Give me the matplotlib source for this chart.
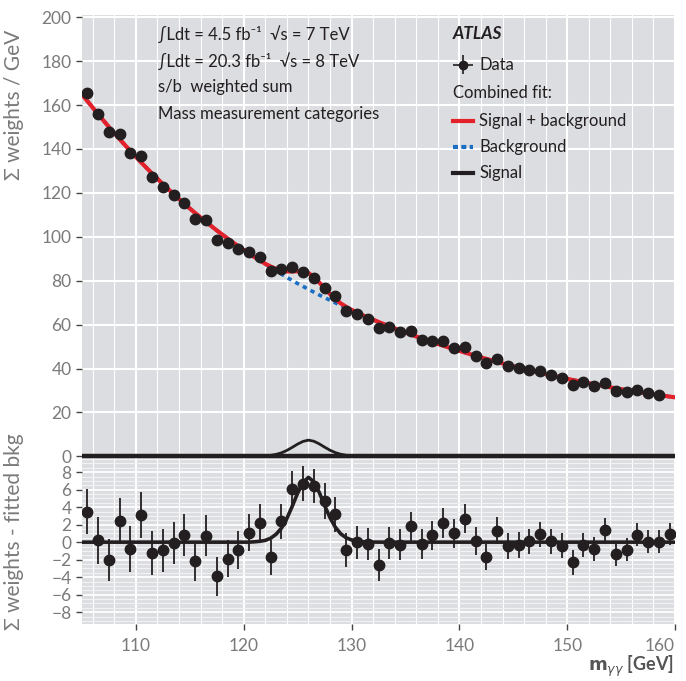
import numpy as np
import matplotlib
matplotlib.use("Agg")
import matplotlib.pyplot as plt

plt.rcParams['font.family'] = ['Lato', 'DejaVu Sans']

# weighted events per 1 GeV bin (upper panel), bin centres 105.5 ... 158.5
data_mass = np.arange(105.5, 159.0, 1.0)
data_vals = [165.3, 155.9, 147.6, 146.7, 138.0, 136.8, 127.3, 122.7, 119.2, 115.5,
             108.2, 107.5, 98.6, 97.0, 94.5, 93.0, 91.0, 84.2, 85.5, 86.1,
             84.0, 81.1, 76.6, 72.8, 66.3, 65.0, 62.7, 58.4, 58.8, 56.7,
             57.1, 53.2, 52.6, 52.6, 49.4, 49.9, 45.8, 42.5, 44.5, 41.2,
             40.3, 39.4, 38.8, 37.0, 35.5, 32.6, 34.0, 32.1, 33.5, 29.7,
             29.5, 30.3, 28.8, 27.9]

# data minus fitted background (lower panel), bin centres 105.5 ... 159.5
res_mass = np.arange(105.5, 160.0, 1.0)
res_vals = [3.5, 0.2, -2.0, 2.4, -0.8, 3.1, -1.25, -0.95, -0.1, 0.8,
            -2.2, 0.75, -3.9, -1.9, -0.9, 1.1, 2.2, -1.75, 2.4, 6.1,
            6.7, 6.4, 4.7, 3.2, -0.9, 0.0, -0.2, -2.6, -0.1, -0.3,
            1.8, -0.2, 0.8, 2.2, 1.0, 2.7, 0.1, -1.7, 1.3, -0.4,
            -0.3, 0.1, 0.9, 0.1, -0.4, -2.3, -0.3, -0.8, 1.4, -1.4,
            -0.85, 0.85, 0.05, 0.05, 0.95]
res_errs = [2.55, 2.65, 2.4, 2.6, 2.6, 2.65, 2.5, 2.45, 2.45, 2.4,
            2.2, 2.3, 2.2, 2.1, 2.15, 2.1, 2.2, 2.0, 2.0, 2.0,
            1.95, 1.95, 2.05, 2.0, 1.95, 1.9, 1.85, 1.8, 1.8, 1.75,
            1.65, 1.7, 1.65, 1.75, 1.65, 1.65, 1.6, 1.5, 1.55, 1.5,
            1.5, 1.45, 1.45, 1.45, 1.45, 1.4, 1.4, 1.35, 1.35, 1.35,
            1.3, 1.3, 1.3, 1.3, 1.25]

# fitted curves
fit_mass = [105, 105.5, 106.5, 107.5, 108.5, 109.5, 110.5, 111.5, 112.5, 113.5,
            114.5, 115.5, 116.5, 117.5, 118.5, 119.5, 120.5, 121, 121.5, 122,
            122.5, 123, 123.5, 124, 124.5, 125, 125.5, 126, 126.5, 127,
            127.5, 128, 128.5, 129, 129.5, 130, 130.5, 131, 131.5, 132.5,
            133.5, 134.5, 135.5, 136.5, 137.5, 138.5, 139.5, 140.5, 141.5, 142.5,
            143.5, 144.5, 145.5, 146.5, 147.5, 148.5, 149.5, 150.5, 151.5, 152.5,
            153.5, 154.5, 155.5, 156.5, 157.5, 158.5, 159.5, 160]
fit_bkg = [164.8, 161.8, 155.8, 150.0, 144.4, 139.0, 133.8, 128.8, 124.0, 119.4,
           115.0, 110.8, 106.8, 102.9, 99.2, 95.7, 92.3, 90.7, 89.1, 87.5,
           86.0, 84.5, 83.0, 81.5, 80.1, 78.7, 77.4, 76.1, 74.8, 73.5,
           72.3, 71.1, 69.9, 68.7, 67.6, 66.5, 65.4, 64.3, 63.3, 61.2,
           59.2, 57.3, 55.5, 53.7, 52.0, 50.4, 48.8, 47.3, 45.8, 44.4,
           43.0, 41.7, 40.4, 39.2, 38.0, 36.9, 35.8, 34.8, 33.8, 32.8,
           31.9, 31.0, 30.2, 29.4, 28.6, 27.9, 27.2, 26.9]
fit_sig = [0, 0, 0, 0, 0, 0, 0, 0, 0, 0,
           0, 0, 0, 0, 0, 0, 0, 0.04, 0.1, 0.2,
           0.45, 0.9, 1.6, 2.7, 4.1, 5.6, 6.8, 7.4, 6.9, 5.7,
           4.2, 2.8, 1.7, 0.95, 0.5, 0.25, 0.12, 0.05, 0.02, 0,
           0, 0, 0, 0, 0, 0, 0, 0, 0, 0,
           0, 0, 0, 0, 0, 0, 0, 0, 0, 0,
           0, 0, 0, 0, 0, 0, 0, 0]

fit_mass = np.array(fit_mass)
fit_bkg = np.array(fit_bkg)
fit_sig = np.array(fit_sig)

panel_bg = '#dcdde0'
ink = '#231f20'
red = '#e3212b'
blue = '#1a6fc4'
label_grey = '#7a7a7a'

fig = plt.figure(figsize=(6.86, 6.81), dpi=100)
ax1 = fig.add_axes([0.1195, 0.326, 0.8645, 0.652])
ax2 = fig.add_axes([0.1195, 0.0837, 0.8645, 0.2423])

for ax in (ax1, ax2):
    ax.set_facecolor(panel_bg)
    for s in ax.spines.values():
        s.set_visible(False)
    ax.set_xlim(105, 160)
    ax.set_xticks(np.arange(110, 161, 10))
    ax.set_xticks(np.arange(106, 160, 2), minor=True)
    ax.grid(True, which='major', axis='x', color='white', lw=1.5, zorder=0)
    ax.grid(True, which='minor', axis='x', color='white', lw=0.8, zorder=0)
    ax.tick_params(axis='both', which='major', colors='#444444', labelcolor=label_grey,
                   labelsize=12.5, length=4, width=1)
    ax.tick_params(axis='both', which='minor', length=0)
    ax.set_axisbelow(True)

# upper panel
ax1.set_ylim(-1.2, 201)
ax1.set_yticks(np.arange(0, 201, 20))
ax1.grid(True, which='major', axis='y', color='white', lw=1.5, zorder=0)
ax1.tick_params(axis='x', which='both', bottom=False, labelbottom=False)

ax1.axhline(0, color=ink, lw=3.2, zorder=3)
ax1.plot(fit_mass, fit_sig, color=ink, lw=2.0, zorder=3)
ax1.plot(fit_mass, fit_bkg, color=blue, lw=2.6, ls=(0, (1.2, 1.2)), zorder=3)
ax1.plot(fit_mass, fit_bkg + fit_sig, color=red, lw=3.0, zorder=4)
ax1.plot(data_mass, data_vals, 'o', color=ink, ms=7.5, zorder=5)

ax1.set_ylabel('Σ weights / GeV', color=label_grey, fontsize=15, loc='top')
ax1.yaxis.set_label_coords(-0.098, 0.966)

txt = dict(transform=ax1.transAxes, fontsize=12, color=ink, va='center', ha='left')
ax1.text(0.128, 0.958, '∫Ldt = 4.5 fb⁻¹  √s = 7 TeV', **txt)
ax1.text(0.128, 0.897, '∫Ldt = 20.3 fb⁻¹  √s = 8 TeV', **txt)
ax1.text(0.128, 0.837, 's/b  weighted sum', **txt)
ax1.text(0.128, 0.778, 'Mass measurement categories', **txt)

ax1.text(0.625, 0.958, 'ATLAS', transform=ax1.transAxes, fontsize=12.5, color=ink,
         va='center', ha='left', fontweight='bold', fontstyle='italic')
lx0, lx1, tx = 0.625, 0.659, 0.67
ax1.errorbar([(lx0 + lx1) / 2], [0.888], xerr=[0.017], yerr=[0.022], fmt='o', color=ink,
             ms=6, lw=1.2, transform=ax1.transAxes, zorder=6)
ax1.text(tx, 0.888, 'Data', **txt)
ax1.text(lx0, 0.824, 'Combined fit:', **txt)
ax1.plot([lx0, lx1], [0.762, 0.762], color=red, lw=3, transform=ax1.transAxes)
ax1.text(tx, 0.762, 'Signal + background', **txt)
ax1.plot([lx0, lx1], [0.703, 0.703], color=blue, lw=3, ls=(0, (1.2, 0.8)), transform=ax1.transAxes)
ax1.text(tx, 0.703, 'Background', **txt)
ax1.plot([lx0, lx1], [0.643, 0.643], color=ink, lw=3, transform=ax1.transAxes)
ax1.text(tx, 0.643, 'Signal', **txt)

# lower panel
ax2.set_ylim(-9.35, 9.45)
ax2.set_yticks(np.arange(-8, 9, 2))
ax2.set_yticks(np.arange(-9, 9.6, 0.5), minor=True)
ax2.grid(True, which='major', axis='y', color='white', lw=1.3, zorder=0)
ax2.grid(True, which='minor', axis='y', color='#f2f2f3', lw=0.9, zorder=0)
ax2.tick_params(axis='x', which='major', pad=6)
# keep the last tick label inside the figure, as in the original
ax2.get_xticklabels()[-1].set_horizontalalignment('right')

ax2.plot(fit_mass, fit_sig, color=ink, lw=2.6, zorder=3)
ax2.errorbar(res_mass, res_vals, yerr=res_errs, fmt='o', color=ink, ms=7.5,
             elinewidth=1.3, capsize=0, zorder=4)

ax2.set_ylabel('Σ weights - fitted bkg', color=label_grey, fontsize=15)
ax2.yaxis.set_label_coords(-0.098, 0.56)
ax2.set_xlabel(r'$\mathbf{m}_{\gamma\gamma}$ [GeV]', color='#555555', fontsize=13,
               fontweight='bold', ha='right', va='center')
ax2.xaxis.set_label_coords(0.997, -0.255)

fig.savefig('out.png', dpi=100)
